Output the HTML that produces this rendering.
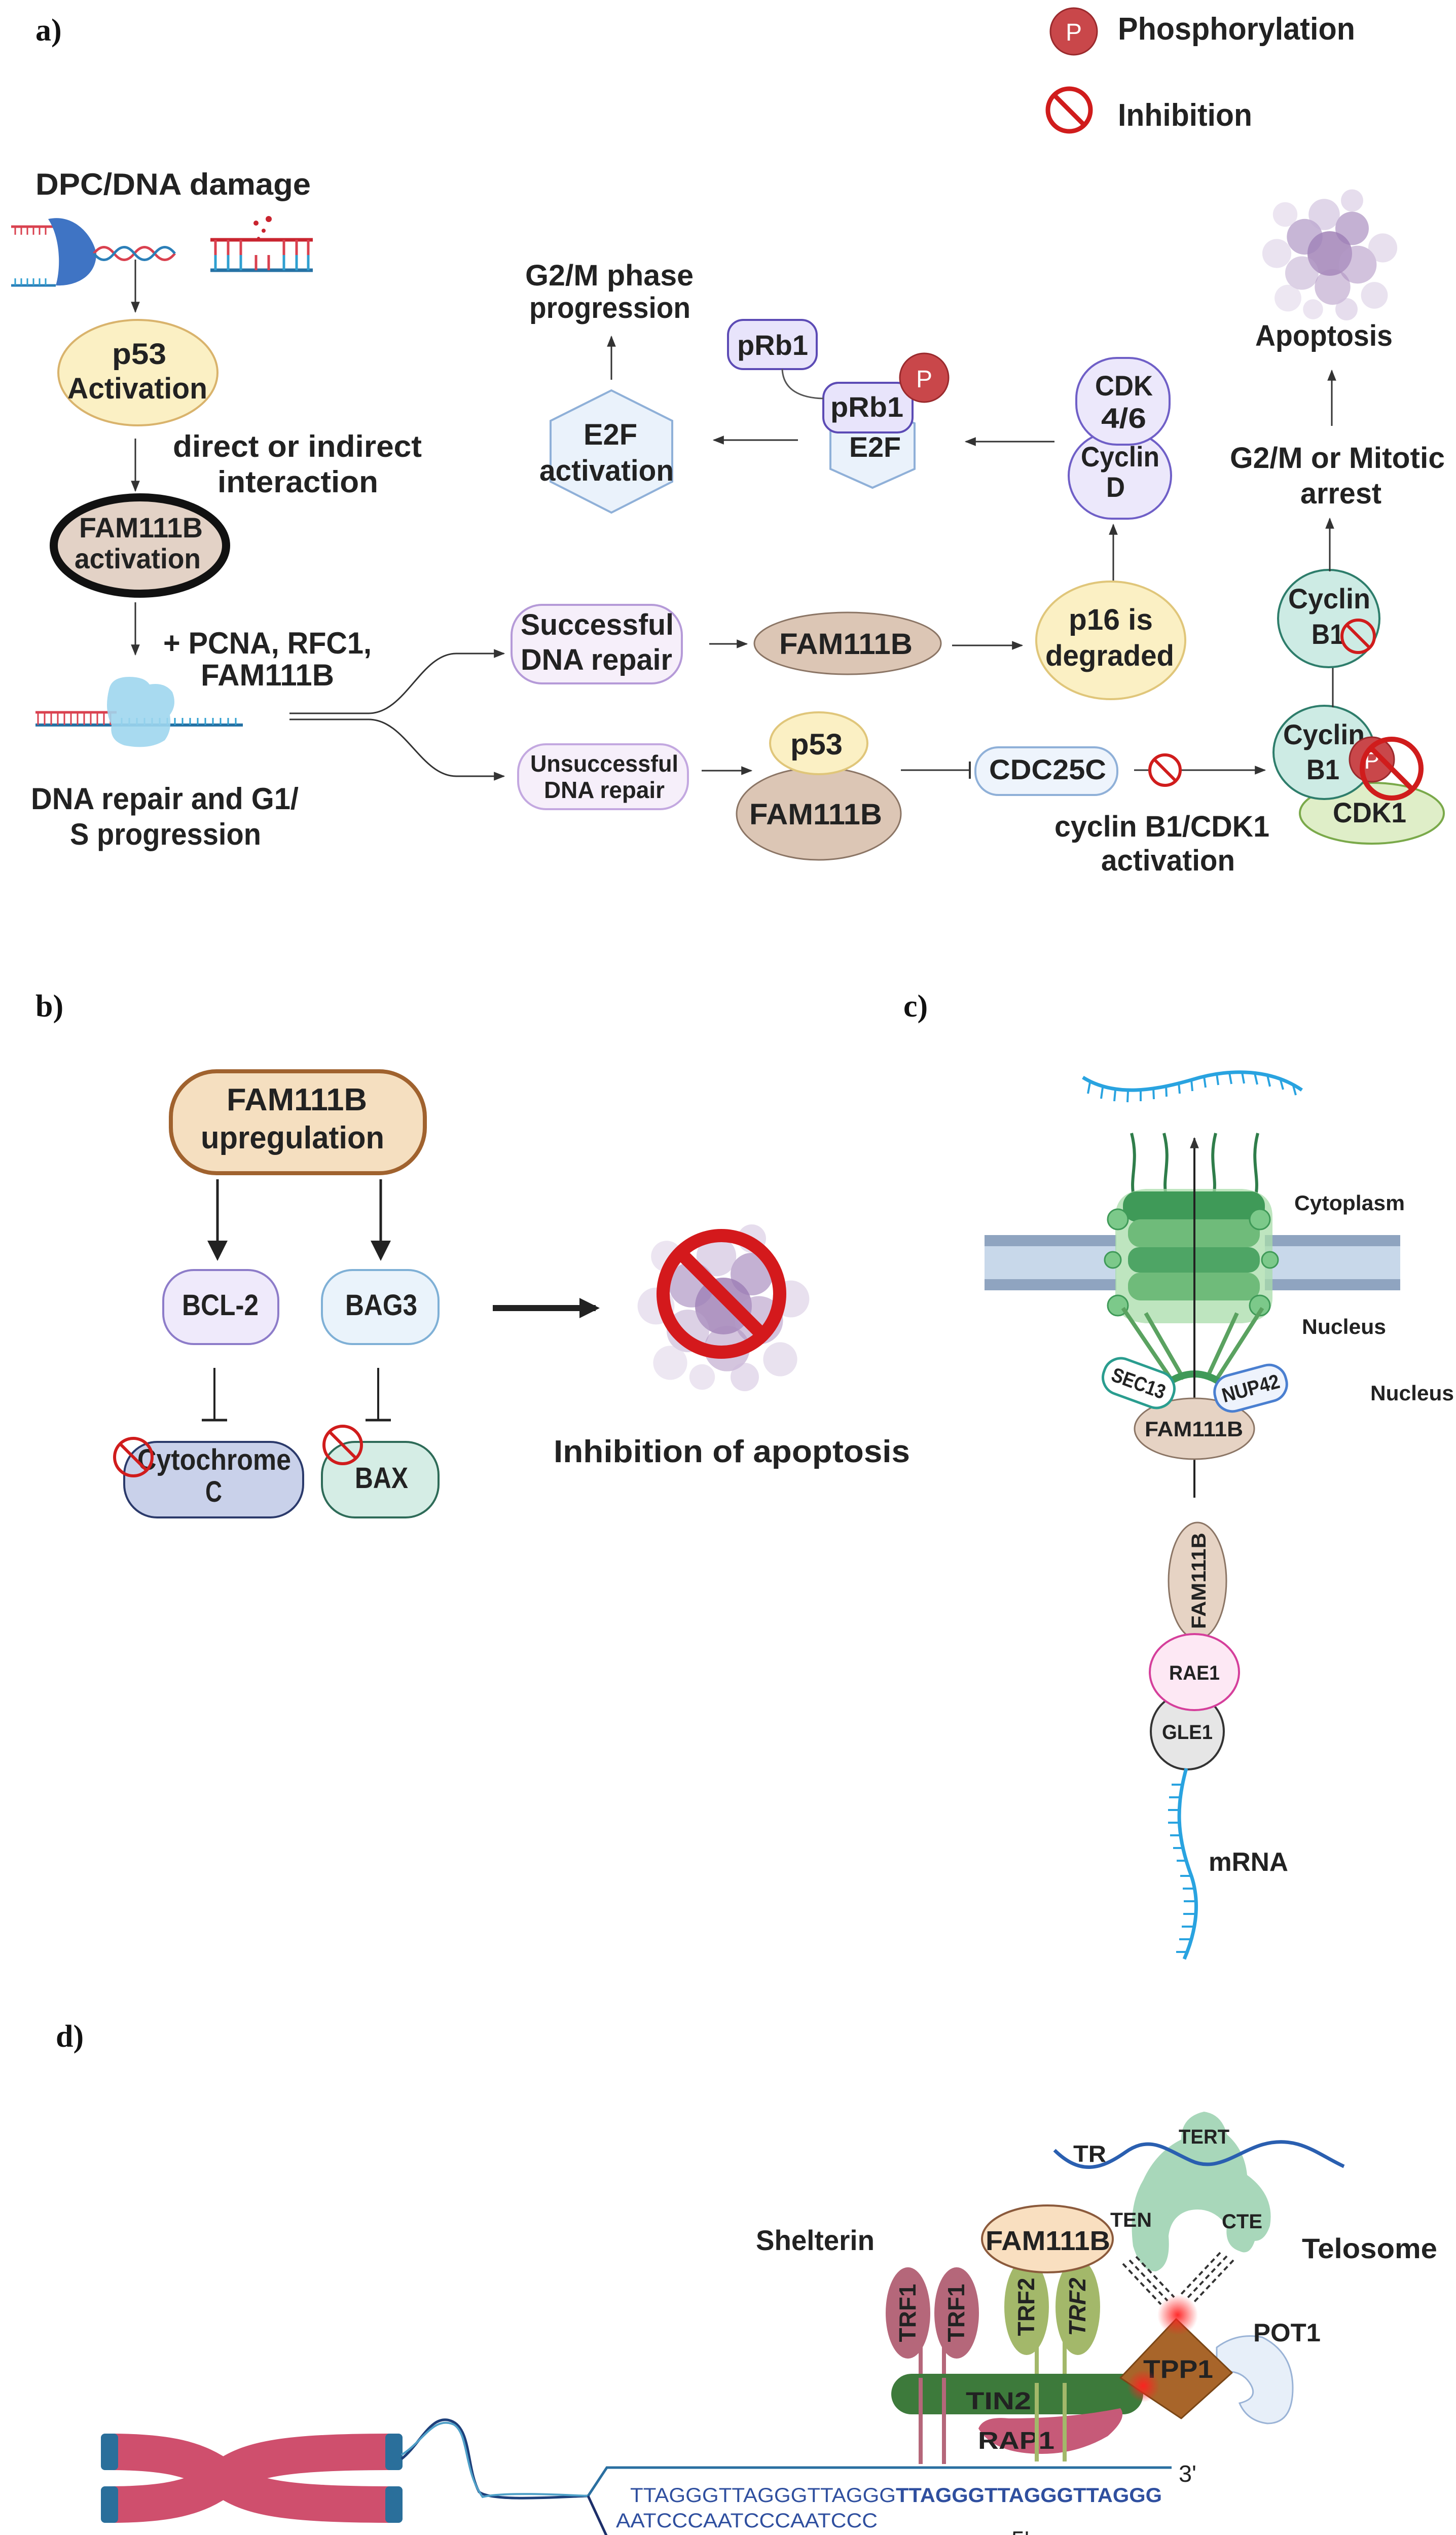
<!DOCTYPE html>
<html><head><meta charset="utf-8">
<style>
html,body{margin:0;padding:0;background:#fff;overflow:hidden;width:2872px;height:5051px;}
svg{display:block;}
.t{font-family:"Liberation Sans",Arial,sans-serif;font-weight:bold;fill:#222;}
.s{font-family:"Liberation Serif",serif;font-weight:bold;fill:#111;}
</style></head><body>
<svg width="2872" height="5051" viewBox="0 0 2872 5051" xmlns="http://www.w3.org/2000/svg">
<defs>
<marker id="ahs" viewBox="0 0 10 10" refX="9" refY="5" markerWidth="22" markerHeight="22" orient="auto" markerUnits="userSpaceOnUse"><path d="M0,1 L10,5 L0,9 z" fill="#333"/></marker>
<marker id="ahb" viewBox="0 0 10 10" refX="8" refY="5" markerWidth="40" markerHeight="40" orient="auto" markerUnits="userSpaceOnUse"><path d="M0,0 L10,5 L0,10 z" fill="#222"/></marker>
<radialGradient id="glow"><stop offset="0" stop-color="#ff2020" stop-opacity="0.95"/><stop offset="1" stop-color="#ff2020" stop-opacity="0"/></radialGradient>
<g id="apo">
<circle cx="0" cy="0" r="40" fill="#8e6aa8" opacity="0.7"/>
<circle cx="-45" cy="-30" r="32" fill="#a285bb" opacity="0.6"/>
<circle cx="40" cy="-45" r="30" fill="#9d7db6" opacity="0.6"/>
<circle cx="50" cy="20" r="34" fill="#b49ac7" opacity="0.6"/>
<circle cx="-50" cy="35" r="30" fill="#b9a3cb" opacity="0.5"/>
<circle cx="5" cy="60" r="32" fill="#a98cbd" opacity="0.5"/>
<circle cx="-10" cy="-70" r="28" fill="#c2aed3" opacity="0.5"/>
<circle cx="-95" cy="0" r="26" fill="#d6c8e1" opacity="0.5"/>
<circle cx="95" cy="-10" r="26" fill="#d1c2de" opacity="0.5"/>
<circle cx="-80" cy="-70" r="22" fill="#d9cce4" opacity="0.5"/>
<circle cx="80" cy="75" r="24" fill="#d4c6e0" opacity="0.5"/>
<circle cx="-75" cy="80" r="24" fill="#dccfe6" opacity="0.5"/>
<circle cx="30" cy="100" r="20" fill="#cdbbdb" opacity="0.5"/>
<circle cx="40" cy="-95" r="20" fill="#cdbbdb" opacity="0.5"/>
<circle cx="-30" cy="100" r="18" fill="#d9cce4" opacity="0.5"/>
</g>
</defs>

<!-- ================= PANEL A ================= -->
<text class="s" x="70" y="80" font-size="62">a)</text>

<circle cx="2118" cy="62" r="46" fill="#c9474a" stroke="#9a2a2d" stroke-width="3"/>
<text x="2118" y="80" font-size="48" fill="#fff" font-family="Liberation Sans,sans-serif" text-anchor="middle">P</text>
<text class="t" x="2205" y="78" font-size="62" textLength="468" lengthAdjust="spacingAndGlyphs">Phosphorylation</text>
<circle cx="2109" cy="217" r="42" fill="none" stroke="#d01c1c" stroke-width="9"/>
<line x1="2080" y1="188" x2="2138" y2="246" stroke="#d01c1c" stroke-width="9"/>
<text class="t" x="2205" y="248" font-size="62" textLength="265" lengthAdjust="spacingAndGlyphs">Inhibition</text>

<text class="t" x="70" y="384" font-size="60" textLength="543" lengthAdjust="spacingAndGlyphs">DPC/DNA damage</text>
<g>
<line x1="22" y1="447" x2="110" y2="447" stroke="#d9414f" stroke-width="5"/>
<path d="M30,447 v16 M42,447 v16 M54,447 v16 M66,447 v16 M78,447 v16 M90,447 v16" stroke="#d9414f" stroke-width="3"/>
<line x1="22" y1="563" x2="110" y2="563" stroke="#2b7fb8" stroke-width="5"/>
<path d="M30,563 v-14 M42,563 v-14 M54,563 v-14 M66,563 v-14 M78,563 v-14 M90,563 v-14" stroke="#2f9fd0" stroke-width="3"/>
<path d="M95,432 C150,420 185,470 190,500 C190,545 150,565 110,563 C120,530 120,470 95,432z" fill="#3f74c4"/>
<path d="M185,500 q20,-25 40,0 t40,0 t40,0 t40,0" fill="none" stroke="#d9414f" stroke-width="5"/>
<path d="M185,500 q20,25 40,0 t40,0 t40,0 t40,0" fill="none" stroke="#2b7fb8" stroke-width="5"/>
<line x1="415" y1="473" x2="617" y2="473" stroke="#c9242f" stroke-width="7"/>
<line x1="415" y1="533" x2="617" y2="533" stroke="#2672a4" stroke-width="7"/>
<path d="M425,473 v60 M450,473 v60 M475,473 v60 M560,473 v60 M585,473 v60 M608,473 v60 M505,503 v30 M530,503 v30" stroke="#d9414f" stroke-width="5"/>
<path d="M425,503 v30 M450,503 v30 M475,503 v30 M560,503 v30 M585,503 v30 M608,503 v30" stroke="#2f9fd0" stroke-width="5"/>
<circle cx="505" cy="440" r="5" fill="#c9242f"/><circle cx="520" cy="455" r="4" fill="#c9242f"/><circle cx="530" cy="432" r="6" fill="#c9242f"/><circle cx="510" cy="470" r="3" fill="#c9242f"/>
</g>
<line x1="267" y1="512" x2="267" y2="615" stroke="#333" stroke-width="3" marker-end="url(#ahs)"/>

<ellipse cx="272" cy="735" rx="157" ry="104" fill="#fbf0c4" stroke="#d9b36c" stroke-width="4"/>
<text class="t" x="221" y="718" font-size="58" textLength="107" lengthAdjust="spacingAndGlyphs">p53</text>
<text class="t" x="133" y="786" font-size="58" textLength="276" lengthAdjust="spacingAndGlyphs">Activation</text>

<line x1="267" y1="865" x2="267" y2="968" stroke="#333" stroke-width="3" marker-end="url(#ahs)"/>
<text class="t" x="341" y="901" font-size="60" textLength="491" lengthAdjust="spacingAndGlyphs">direct or indirect</text>
<text class="t" x="429" y="971" font-size="60" textLength="317" lengthAdjust="spacingAndGlyphs">interaction</text>

<ellipse cx="276" cy="1076" rx="170" ry="95" fill="#e3d2c6" stroke="#111" stroke-width="16"/>
<text class="t" x="156" y="1060" font-size="56" textLength="244" lengthAdjust="spacingAndGlyphs">FAM111B</text>
<text class="t" x="147" y="1121" font-size="56" textLength="249" lengthAdjust="spacingAndGlyphs">activation</text>

<line x1="267" y1="1188" x2="267" y2="1291" stroke="#333" stroke-width="3" marker-end="url(#ahs)"/>
<text class="t" x="322" y="1289" font-size="60" textLength="411" lengthAdjust="spacingAndGlyphs">+ PCNA, RFC1,</text>
<text class="t" x="396" y="1352" font-size="60" textLength="263" lengthAdjust="spacingAndGlyphs">FAM111B</text>

<g>
<line x1="70" y1="1405" x2="230" y2="1405" stroke="#d9414f" stroke-width="5"/>
<line x1="70" y1="1430" x2="479" y2="1430" stroke="#2672a4" stroke-width="6"/>
<path d="M75,1405 v25 M88,1405 v25 M101,1405 v25 M114,1405 v25 M127,1405 v25 M140,1405 v25 M153,1405 v25 M166,1405 v25 M179,1405 v25 M192,1405 v25 M205,1405 v25 M218,1405 v25" stroke="#d9414f" stroke-width="3"/>
<path d="M240,1430 v-14 M255,1430 v-14 M270,1430 v-14 M285,1430 v-14 M300,1430 v-14 M315,1430 v-14 M330,1430 v-14 M345,1430 v-14 M360,1430 v-14 M375,1430 v-14 M390,1430 v-14 M405,1430 v-14 M420,1430 v-14 M435,1430 v-14 M450,1430 v-14 M465,1430 v-14" stroke="#2f9fd0" stroke-width="3"/>
<path d="M215,1360 q5,-25 40,-25 q30,0 40,15 q30,-5 45,15 q10,25 -5,45 q5,30 -10,50 q-30,20 -80,10 q-30,-10 -25,-40 q-15,-30 -5,-70z" fill="#9fd6ee" opacity="0.9"/>
</g>
<text class="t" x="61" y="1596" font-size="60" textLength="528" lengthAdjust="spacingAndGlyphs">DNA repair and G1/</text>
<text class="t" x="138" y="1666" font-size="60" textLength="377" lengthAdjust="spacingAndGlyphs">S progression</text>

<path d="M571,1407 H727 C800,1407 830,1289 900,1289 H994" fill="none" stroke="#333" stroke-width="3" marker-end="url(#ahs)"/>
<path d="M571,1419 H727 C800,1419 830,1531 900,1531 H994" fill="none" stroke="#333" stroke-width="3" marker-end="url(#ahs)"/>

<rect x="1009" y="1193" width="336" height="155" rx="60" fill="#f6effa" stroke="#b59ad8" stroke-width="4"/>
<text class="t" x="1027" y="1252" font-size="58" textLength="302" lengthAdjust="spacingAndGlyphs">Successful</text>
<text class="t" x="1027" y="1321" font-size="58" textLength="299" lengthAdjust="spacingAndGlyphs">DNA repair</text>
<line x1="1399" y1="1270" x2="1473" y2="1270" stroke="#333" stroke-width="3" marker-end="url(#ahs)"/>
<ellipse cx="1672" cy="1269" rx="184" ry="61" fill="#dcc6b5" stroke="#8b7565" stroke-width="3"/>
<text class="t" x="1537" y="1290" font-size="58" textLength="263" lengthAdjust="spacingAndGlyphs">FAM111B</text>
<line x1="1878" y1="1273" x2="2016" y2="1273" stroke="#333" stroke-width="3" marker-end="url(#ahs)"/>
<ellipse cx="2191" cy="1263" rx="147" ry="116" fill="#fbf0c4" stroke="#e0c67a" stroke-width="4"/>
<text class="t" x="2108" y="1242" font-size="58" textLength="166" lengthAdjust="spacingAndGlyphs">p16 is</text>
<text class="t" x="2062" y="1313" font-size="58" textLength="254" lengthAdjust="spacingAndGlyphs">degraded</text>
<line x1="2196" y1="1145" x2="2196" y2="1035" stroke="#333" stroke-width="3" marker-end="url(#ahs)"/>

<rect x="2108" y="853" width="202" height="170" rx="85" fill="#ece8fb" stroke="#6f5fc7" stroke-width="4"/>
<rect x="2123" y="706" width="184" height="171" rx="80" fill="#ece8fb" stroke="#6f5fc7" stroke-width="4"/>
<text class="t" x="2160" y="780" font-size="56" textLength="114" lengthAdjust="spacingAndGlyphs">CDK</text>
<text class="t" x="2172" y="844" font-size="56" textLength="89" lengthAdjust="spacingAndGlyphs">4/6</text>
<text class="t" x="2132" y="920" font-size="56" textLength="155" lengthAdjust="spacingAndGlyphs">Cyclin</text>
<text class="t" x="2182" y="980" font-size="56" textLength="37" lengthAdjust="spacingAndGlyphs">D</text>
<line x1="2080" y1="871" x2="1905" y2="871" stroke="#333" stroke-width="3" marker-end="url(#ahs)"/>

<polygon points="1721,800 1804,835 1804,925 1721,962 1638,925 1638,835" fill="#eaf2fb" stroke="#8fb0d8" stroke-width="4"/>
<text class="t" x="1675" y="901" font-size="56" textLength="102" lengthAdjust="spacingAndGlyphs">E2F</text>
<rect x="1624" y="755" width="176" height="98" rx="30" fill="#e8e4fb" stroke="#5c4bb5" stroke-width="4"/>
<text class="t" x="1638" y="822" font-size="56" textLength="144" lengthAdjust="spacingAndGlyphs">pRb1</text>
<circle cx="1823" cy="745" r="48" fill="#c9474a" stroke="#9a2a2d" stroke-width="3"/>
<text x="1823" y="764" font-size="48" fill="#fff" font-family="Liberation Sans,sans-serif" text-anchor="middle">P</text>
<rect x="1436" y="631" width="175" height="97" rx="30" fill="#e8e4fb" stroke="#5c4bb5" stroke-width="4"/>
<text class="t" x="1454" y="700" font-size="56" textLength="140" lengthAdjust="spacingAndGlyphs">pRb1</text>
<path d="M1543,728 C1545,770 1580,785 1624,786" fill="none" stroke="#555" stroke-width="3"/>
<line x1="1574" y1="868" x2="1408" y2="868" stroke="#333" stroke-width="3" marker-end="url(#ahs)"/>

<polygon points="1206,770 1326,830 1326,950 1206,1011 1086,950 1086,830" fill="#eaf2fb" stroke="#8fb0d8" stroke-width="4"/>
<text class="t" x="1151" y="877" font-size="58" textLength="106" lengthAdjust="spacingAndGlyphs">E2F</text>
<text class="t" x="1064" y="948" font-size="58" textLength="265" lengthAdjust="spacingAndGlyphs">activation</text>
<line x1="1206" y1="749" x2="1206" y2="664" stroke="#333" stroke-width="3" marker-end="url(#ahs)"/>
<text class="t" x="1036" y="563" font-size="58" textLength="332" lengthAdjust="spacingAndGlyphs">G2/M phase</text>
<text class="t" x="1044" y="627" font-size="58" textLength="318" lengthAdjust="spacingAndGlyphs">progression</text>

<rect x="1022" y="1468" width="335" height="128" rx="55" fill="#f6effa" stroke="#c3a8e0" stroke-width="4"/>
<text class="t" x="1046" y="1522" font-size="46" textLength="292" lengthAdjust="spacingAndGlyphs">Unsuccessful</text>
<text class="t" x="1073" y="1574" font-size="46" textLength="238" lengthAdjust="spacingAndGlyphs">DNA repair</text>
<line x1="1384" y1="1520" x2="1482" y2="1520" stroke="#333" stroke-width="3" marker-end="url(#ahs)"/>
<ellipse cx="1615" cy="1605" rx="162" ry="91" fill="#dcc6b5" stroke="#8b7565" stroke-width="3"/>
<ellipse cx="1615" cy="1466" rx="96" ry="61" fill="#fbf0c4" stroke="#e0c67a" stroke-width="4"/>
<text class="t" x="1559" y="1488" font-size="58" textLength="103" lengthAdjust="spacingAndGlyphs">p53</text>
<text class="t" x="1478" y="1626" font-size="58" textLength="262" lengthAdjust="spacingAndGlyphs">FAM111B</text>
<line x1="1777" y1="1519" x2="1913" y2="1519" stroke="#333" stroke-width="3"/>
<line x1="1913" y1="1502" x2="1913" y2="1536" stroke="#333" stroke-width="4"/>
<rect x="1924" y="1474" width="280" height="94" rx="45" fill="#eef4fc" stroke="#8fb0d8" stroke-width="4"/>
<text class="t" x="1951" y="1537" font-size="56" textLength="231" lengthAdjust="spacingAndGlyphs">CDC25C</text>
<line x1="2237" y1="1519" x2="2495" y2="1519" stroke="#333" stroke-width="3" marker-end="url(#ahs)"/>
<circle cx="2298" cy="1519" r="30" fill="#fff" stroke="#d01c1c" stroke-width="6"/>
<line x1="2277" y1="1498" x2="2319" y2="1540" stroke="#d01c1c" stroke-width="6"/>
<text class="t" x="2080" y="1650" font-size="58" textLength="424" lengthAdjust="spacingAndGlyphs">cyclin B1/CDK1</text>
<text class="t" x="2172" y="1717" font-size="58" textLength="264" lengthAdjust="spacingAndGlyphs">activation</text>

<ellipse cx="2706" cy="1604" rx="142" ry="60" fill="#dfeec8" stroke="#7aa94a" stroke-width="4"/>
<text class="t" x="2629" y="1622" font-size="56" textLength="145" lengthAdjust="spacingAndGlyphs">CDK1</text>
<ellipse cx="2612" cy="1484" rx="100" ry="92" fill="#cdebe4" stroke="#2e7d6b" stroke-width="4"/>
<text class="t" x="2531" y="1468" font-size="56" textLength="161" lengthAdjust="spacingAndGlyphs">Cyclin</text>
<text class="t" x="2577" y="1537" font-size="56" textLength="65" lengthAdjust="spacingAndGlyphs">B1</text>
<circle cx="2706" cy="1498" r="44" fill="#c9474a" stroke="#9a2a2d" stroke-width="3"/>
<text x="2706" y="1516" font-size="46" fill="#fff" font-family="Liberation Sans,sans-serif" text-anchor="middle">P</text>
<circle cx="2745" cy="1516" r="58" fill="none" stroke="#d01c1c" stroke-width="10"/>
<line x1="2704" y1="1475" x2="2786" y2="1557" stroke="#d01c1c" stroke-width="10"/>
<line x1="2629" y1="1395" x2="2629" y2="1291" stroke="#333" stroke-width="3" marker-end="url(#ahs)"/>

<ellipse cx="2621" cy="1220" rx="100" ry="96" fill="#cdebe4" stroke="#2e7d6b" stroke-width="4"/>
<text class="t" x="2541" y="1200" font-size="56" textLength="162" lengthAdjust="spacingAndGlyphs">Cyclin</text>
<text class="t" x="2587" y="1270" font-size="56" textLength="64" lengthAdjust="spacingAndGlyphs">B1</text>
<circle cx="2679" cy="1255" r="32" fill="none" stroke="#d01c1c" stroke-width="6"/>
<line x1="2656" y1="1232" x2="2702" y2="1278" stroke="#d01c1c" stroke-width="6"/>
<line x1="2623" y1="1127" x2="2623" y2="1023" stroke="#333" stroke-width="3" marker-end="url(#ahs)"/>
<text class="t" x="2426" y="923" font-size="58" textLength="424" lengthAdjust="spacingAndGlyphs">G2/M or Mitotic</text>
<text class="t" x="2565" y="993" font-size="58" textLength="160" lengthAdjust="spacingAndGlyphs">arrest</text>
<line x1="2627" y1="840" x2="2627" y2="731" stroke="#333" stroke-width="3" marker-end="url(#ahs)"/>
<text class="t" x="2476" y="682" font-size="58" textLength="271" lengthAdjust="spacingAndGlyphs">Apoptosis</text>
<use href="#apo" transform="translate(2623,500) scale(1.1)"/>

<!-- ================= PANEL B ================= -->
<text class="s" x="70" y="2005" font-size="62">b)</text>
<rect x="337" y="2113" width="501" height="201" rx="90" fill="#f5dfc0" stroke="#a0622e" stroke-width="8"/>
<text class="t" x="447" y="2190" font-size="62" textLength="277" lengthAdjust="spacingAndGlyphs">FAM111B</text>
<text class="t" x="396" y="2265" font-size="62" textLength="362" lengthAdjust="spacingAndGlyphs">upregulation</text>
<line x1="429" y1="2326" x2="429" y2="2479" stroke="#222" stroke-width="5" marker-end="url(#ahb)"/>
<line x1="751" y1="2326" x2="751" y2="2479" stroke="#222" stroke-width="5" marker-end="url(#ahb)"/>
<rect x="322" y="2505" width="227" height="146" rx="60" fill="#efeafb" stroke="#8d7cc9" stroke-width="4"/>
<text class="t" x="359" y="2594" font-size="58" textLength="151" lengthAdjust="spacingAndGlyphs">BCL-2</text>
<rect x="635" y="2505" width="230" height="146" rx="60" fill="#eaf3fb" stroke="#7fb0d6" stroke-width="4"/>
<text class="t" x="681" y="2594" font-size="58" textLength="142" lengthAdjust="spacingAndGlyphs">BAG3</text>
<line x1="423" y1="2698" x2="423" y2="2801" stroke="#222" stroke-width="4"/>
<line x1="398" y1="2801" x2="448" y2="2801" stroke="#222" stroke-width="5"/>
<line x1="746" y1="2698" x2="746" y2="2801" stroke="#222" stroke-width="4"/>
<line x1="721" y1="2801" x2="771" y2="2801" stroke="#222" stroke-width="5"/>
<rect x="245" y="2844" width="353" height="149" rx="65" fill="#c9d1ea" stroke="#2b3a6b" stroke-width="4"/>
<text class="t" x="271" y="2899" font-size="58" textLength="303" lengthAdjust="spacingAndGlyphs">Cytochrome</text>
<text class="t" x="405" y="2962" font-size="58" textLength="33" lengthAdjust="spacingAndGlyphs">C</text>
<rect x="635" y="2844" width="230" height="149" rx="65" fill="#d5ede5" stroke="#2e6b58" stroke-width="4"/>
<text class="t" x="700" y="2935" font-size="58" textLength="105" lengthAdjust="spacingAndGlyphs">BAX</text>
<circle cx="263" cy="2874" r="37" fill="none" stroke="#d01c1c" stroke-width="6"/>
<line x1="237" y1="2848" x2="289" y2="2900" stroke="#d01c1c" stroke-width="6"/>
<circle cx="676" cy="2850" r="37" fill="none" stroke="#d01c1c" stroke-width="6"/>
<line x1="650" y1="2824" x2="702" y2="2876" stroke="#d01c1c" stroke-width="6"/>
<line x1="972" y1="2580" x2="1175" y2="2580" stroke="#222" stroke-width="12" marker-end="url(#ahb)"/>
<use href="#apo" transform="translate(1427,2576) scale(1.4)"/>
<circle cx="1423" cy="2552" r="115" fill="none" stroke="#d4191c" stroke-width="26"/>
<line x1="1342" y1="2471" x2="1504" y2="2633" stroke="#d4191c" stroke-width="26"/>
<text class="t" x="1092" y="2884" font-size="62" textLength="703" lengthAdjust="spacingAndGlyphs">Inhibition of apoptosis</text>

<!-- ================= PANEL C ================= -->
<text class="s" x="1782" y="2005" font-size="62">c)</text>
<path d="M2136,2125 C2200,2165 2280,2150 2350,2130 C2430,2105 2510,2110 2568,2150" fill="none" stroke="#29a3e0" stroke-width="7"/>
<path d="M2150,2135 l-4,22 M2175,2145 l-3,22 M2200,2150 l-2,22 M2225,2152 l-1,22 M2250,2150 l0,22 M2275,2146 l1,22 M2300,2141 l1,22 M2325,2135 l2,22 M2350,2130 l2,22 M2375,2123 l3,22 M2400,2118 l3,22 M2425,2116 l4,22 M2450,2115 l4,22 M2475,2117 l5,22 M2500,2121 l5,22 M2525,2127 l6,22 M2550,2138 l6,22" stroke="#29a3e0" stroke-width="4"/>
<rect x="1942" y="2436" width="260" height="109" fill="#8fa4c0"/>
<rect x="1942" y="2458" width="260" height="65" fill="#c8d8ea"/>
<rect x="2495" y="2436" width="267" height="109" fill="#8fa4c0"/>
<rect x="2495" y="2458" width="267" height="65" fill="#c8d8ea"/>
<path d="M2237,2363 c-10,-40 10,-70 -5,-128 M2301,2363 c-10,-40 10,-70 -5,-128 M2393,2363 c10,-40 -10,-70 5,-128 M2476,2363 c10,-40 -10,-70 5,-128" fill="none" stroke="#2f7d4a" stroke-width="6"/>
<path d="M2200,2400 q0,-50 60,-55 h190 q60,5 60,55 v160 q0,45 -60,50 h-190 q-60,-5 -60,-50z" fill="#a8dcaa" opacity="0.75"/>
<rect x="2215" y="2350" width="280" height="60" rx="28" fill="#3f9a58"/>
<rect x="2225" y="2405" width="260" height="55" rx="25" fill="#6fbb7a"/>
<rect x="2225" y="2460" width="260" height="50" rx="22" fill="#4ea565"/>
<rect x="2225" y="2510" width="260" height="55" rx="25" fill="#6fbb7a"/>
<circle cx="2205" cy="2405" r="20" fill="#7cc98a" stroke="#3f9a58" stroke-width="3"/>
<circle cx="2485" cy="2405" r="20" fill="#7cc98a" stroke="#3f9a58" stroke-width="3"/>
<circle cx="2195" cy="2485" r="16" fill="#7cc98a" stroke="#3f9a58" stroke-width="3"/>
<circle cx="2505" cy="2485" r="16" fill="#7cc98a" stroke="#3f9a58" stroke-width="3"/>
<circle cx="2205" cy="2575" r="20" fill="#7cc98a" stroke="#3f9a58" stroke-width="3"/>
<circle cx="2485" cy="2575" r="20" fill="#7cc98a" stroke="#3f9a58" stroke-width="3"/>
<path d="M2215,2580 L2310,2720 M2260,2590 L2335,2720 M2440,2590 L2380,2720 M2490,2580 L2400,2720" stroke="#5aa260" stroke-width="8"/>
<path d="M2300,2730 q56,-40 112,0" fill="none" stroke="#3f9a58" stroke-width="14"/>
<line x1="2356" y1="2954" x2="2356" y2="2245" stroke="#222" stroke-width="4" marker-end="url(#ahs)"/>
<text class="t" x="2553" y="2387" font-size="42" textLength="218" lengthAdjust="spacingAndGlyphs">Cytoplasm</text>
<text class="t" x="2568" y="2631" font-size="42" textLength="166" lengthAdjust="spacingAndGlyphs">Nucleus</text>
<text class="t" x="2703" y="2762" font-size="42" textLength="165" lengthAdjust="spacingAndGlyphs">Nucleus</text>
<ellipse cx="2356" cy="2818" rx="118" ry="60" fill="#e6d3c4" stroke="#8b7565" stroke-width="3"/>
<text class="t" x="2258" y="2833" font-size="42" textLength="194" lengthAdjust="spacingAndGlyphs">FAM111B</text>
<g transform="translate(2246,2728) rotate(20)">
<rect x="-72" y="-36" width="144" height="72" rx="34" fill="#fff" stroke="#2a9d8f" stroke-width="5"/>
<text class="t" x="-55" y="14" font-size="40" textLength="110" lengthAdjust="spacingAndGlyphs">SEC13</text></g>
<g transform="translate(2467,2738) rotate(-15)">
<rect x="-72" y="-36" width="144" height="72" rx="34" fill="#eef3fc" stroke="#4a7fd0" stroke-width="5"/>
<text class="t" x="-58" y="14" font-size="40" textLength="116" lengthAdjust="spacingAndGlyphs">NUP42</text></g>
<ellipse cx="2362" cy="3118" rx="57" ry="115" fill="#e6d3c4" stroke="#8b7565" stroke-width="3"/>
<text class="t" transform="translate(2378,3118) rotate(-90)" x="0" y="0" font-size="40" text-anchor="middle" textLength="190" lengthAdjust="spacingAndGlyphs">FAM111B</text>
<ellipse cx="2342" cy="3415" rx="72" ry="75" fill="#e6e6e6" stroke="#333" stroke-width="4"/>
<text class="t" x="2292" y="3430" font-size="40" textLength="100" lengthAdjust="spacingAndGlyphs">GLE1</text>
<ellipse cx="2356" cy="3298" rx="88" ry="75" fill="#fde8f4" stroke="#d53f9b" stroke-width="4"/>
<text class="t" x="2306" y="3313" font-size="40" textLength="100" lengthAdjust="spacingAndGlyphs">RAE1</text>
<path d="M2340,3488 C2320,3560 2320,3620 2350,3700 C2370,3760 2355,3820 2336,3864" fill="none" stroke="#29a3e0" stroke-width="7"/>
<path d="M2333,3520 h-22 M2328,3545 h-22 M2326,3570 h-22 M2326,3595 h-22 M2330,3620 h-22 M2336,3645 h-22 M2343,3670 h-22 M2350,3700 h-22 M2355,3725 h-22 M2357,3750 h-22 M2356,3775 h-22 M2353,3800 h-22 M2348,3825 h-22 M2342,3850 h-22" stroke="#29a3e0" stroke-width="4"/>
<text class="t" x="2384" y="3690" font-size="52" textLength="157" lengthAdjust="spacingAndGlyphs">mRNA</text>

<!-- ================= PANEL D ================= -->
<text class="s" x="110" y="4037" font-size="62">d)</text>
<text class="t" x="1491" y="4438" font-size="56" textLength="234" lengthAdjust="spacingAndGlyphs">Shelterin</text>
<text class="t" x="2568" y="4454" font-size="56" textLength="267" lengthAdjust="spacingAndGlyphs">Telosome</text>
<path d="M2375,4165 q35,5 45,45 q35,30 40,80 q55,40 45,100 q-10,30 -30,30 q-10,30 -30,20 q-30,-10 -25,-50 q-30,-40 -75,-30 q-35,10 -40,50 q5,60 -25,70 q-30,0 -45,-50 q-10,-80 20,-130 q25,-55 75,-80 q0,-45 45,-55z" fill="#9ed3b2" opacity="0.9"/>
<path d="M2080,4241 C2130,4290 2170,4280 2220,4245 C2270,4210 2300,4240 2350,4262 C2400,4285 2440,4245 2490,4230 C2560,4210 2600,4250 2651,4273" fill="none" stroke="#2a5fb0" stroke-width="7"/>
<text class="t" x="2117" y="4264" font-size="46" textLength="65" lengthAdjust="spacingAndGlyphs">TR</text>
<text class="t" x="2325" y="4228" font-size="40" textLength="100" lengthAdjust="spacingAndGlyphs">TERT</text>
<text class="t" x="2190" y="4392" font-size="40" textLength="82" lengthAdjust="spacingAndGlyphs">TEN</text>
<text class="t" x="2410" y="4395" font-size="40" textLength="80" lengthAdjust="spacingAndGlyphs">CTE</text>
<path d="M2215,4465 L2290,4545 M2228,4458 L2303,4538 M2241,4451 L2316,4531" stroke="#333" stroke-width="4" stroke-dasharray="10,7"/>
<path d="M2420,4450 L2340,4535 M2433,4458 L2353,4543 M2407,4443 L2327,4528" stroke="#333" stroke-width="4" stroke-dasharray="10,7"/>
<path d="M1816,4630 V4860 M1862,4630 V4860" stroke="#b5677a" stroke-width="8"/>
<path d="M2045,4620 V4855 M2100,4620 V4855" stroke="#a3b86a" stroke-width="8"/>
<rect x="1758" y="4682" width="497" height="80" rx="40" fill="#3d7a3b"/>
<text class="t" x="1905" y="4752" font-size="48" textLength="129" lengthAdjust="spacingAndGlyphs">TIN2</text>
<path d="M1930,4790 q10,-25 60,-20 q120,0 220,-20 q15,20 -25,55 q-60,35 -130,35 q-95,0 -125,-50z" fill="#c65a78"/>
<text class="t" x="1929" y="4830" font-size="48" textLength="151" lengthAdjust="spacingAndGlyphs">RAP1</text>
<path d="M1816,4690 V4860 M1862,4690 V4860" stroke="#b5677a" stroke-width="8"/>
<path d="M2045,4700 V4855 M2100,4700 V4855" stroke="#a3b86a" stroke-width="8"/>
<ellipse cx="1791" cy="4562" rx="44" ry="90" fill="#b5677a"/>
<ellipse cx="1887" cy="4562" rx="44" ry="90" fill="#b5677a"/>
<ellipse cx="2025" cy="4550" rx="44" ry="95" fill="#a3b86a"/>
<ellipse cx="2126" cy="4550" rx="44" ry="95" fill="#a3b86a"/>
<text class="t" transform="translate(1806,4562) rotate(-90)" font-size="46" text-anchor="middle">TRF1</text>
<text class="t" transform="translate(1902,4562) rotate(-90)" font-size="46" text-anchor="middle">TRF1</text>
<text class="t" transform="translate(2040,4550) rotate(-90)" font-size="46" text-anchor="middle">TRF2</text>
<text class="t" transform="translate(2141,4550) rotate(-90)" font-size="46" text-anchor="middle" font-style="italic">TRF2</text>
<ellipse cx="2066" cy="4416" rx="129" ry="66" fill="#f9dfc0" stroke="#8b5a3c" stroke-width="4"/>
<text class="t" x="1944" y="4438" font-size="54" textLength="246" lengthAdjust="spacingAndGlyphs">FAM111B</text>
<path d="M2400,4630 q40,-30 90,-20 q60,30 60,100 q0,70 -50,70 q-40,-5 -55,-40 q40,-10 20,-40 q-20,-30 -65,-20z" fill="#e7eff9" stroke="#9ab3d6" stroke-width="3"/>
<text class="t" x="2472" y="4618" font-size="50" textLength="133" lengthAdjust="spacingAndGlyphs">POT1</text>
<path d="M2320,4574 L2430,4680 L2330,4770 L2210,4690z" fill="#a8652a" stroke="#7a4616" stroke-width="3" stroke-linejoin="round"/>
<text class="t" x="2255" y="4690" font-size="50" textLength="138" lengthAdjust="spacingAndGlyphs">TPP1</text>
<circle cx="2323" cy="4566" r="40" fill="url(#glow)"/>
<circle cx="2255" cy="4706" r="32" fill="url(#glow)"/>
<!-- chromosome -->
<g fill="none" stroke="#cf4f6d" stroke-width="72">
<path d="M215,4836 C330,4836 390,4850 440,4888 C490,4926 560,4940 776,4940"/>
<path d="M215,4940 C330,4940 390,4926 440,4888 C490,4850 560,4836 776,4836"/>
</g>
<rect x="199" y="4800" width="34" height="72" rx="8" fill="#2a6f9b"/>
<rect x="199" y="4904" width="34" height="72" rx="8" fill="#2a6f9b"/>
<rect x="760" y="4800" width="34" height="72" rx="8" fill="#2a6f9b"/>
<rect x="760" y="4904" width="34" height="72" rx="8" fill="#2a6f9b"/>
<path d="M792,4850 C830,4820 850,4760 890,4775 C930,4790 920,4870 945,4915 C970,4935 1100,4925 1160,4923" fill="none" stroke="#1d3f7a" stroke-width="5"/>
<path d="M792,4842 C835,4815 855,4765 895,4782 C925,4800 915,4875 952,4925 C990,4915 1100,4920 1160,4923" fill="none" stroke="#4fa0c8" stroke-width="4"/>
<path d="M1160,4923 L1197,4867 H2311" fill="none" stroke="#2a6fa0" stroke-width="5"/>
<path d="M1160,4923 L1197,5003 H1979" fill="none" stroke="#1d2f6a" stroke-width="5"/>
<text class="t" x="2325" y="4895" font-size="46" style="font-weight:normal" textLength="35" lengthAdjust="spacingAndGlyphs">3'</text>
<text class="t" x="1995" y="5025" font-size="46" style="font-weight:normal" textLength="35" lengthAdjust="spacingAndGlyphs">5'</text>
<text x="1243" y="4935" font-family="Liberation Sans,sans-serif" font-size="40" fill="#2f4f9f" textLength="524" lengthAdjust="spacingAndGlyphs">TTAGGGTTAGGGTTAGGG</text>
<text x="1767" y="4935" font-family="Liberation Sans,sans-serif" font-weight="bold" font-size="40" fill="#2f4f9f" textLength="525" lengthAdjust="spacingAndGlyphs">TTAGGGTTAGGGTTAGGG</text>
<text x="1215" y="4985" font-family="Liberation Sans,sans-serif" font-size="40" fill="#2f4f9f" textLength="516" lengthAdjust="spacingAndGlyphs">AATCCCAATCCCAATCCC</text>
</svg>
</body></html>
